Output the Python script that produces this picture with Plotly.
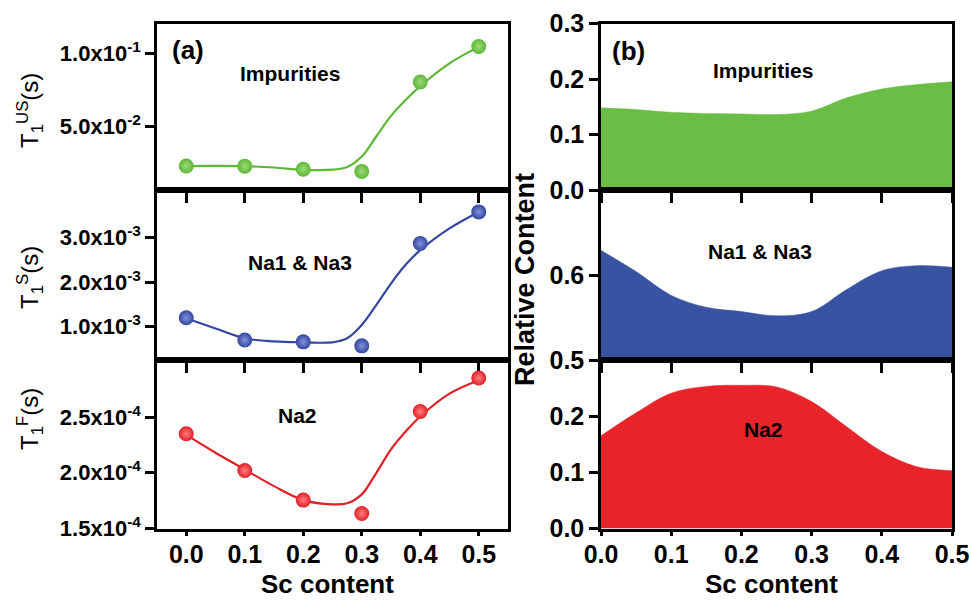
import plotly.graph_objects as go

# ---- measured data (a): relaxation times vs Sc content ----
sc = [0.0, 0.1, 0.2, 0.3, 0.4, 0.5]
t1_us = [0.0225, 0.0224, 0.0203, 0.0188, 0.0803, 0.1048]
t1_s = [1.20e-3, 0.70e-3, 0.66e-3, 0.57e-3, 2.87e-3, 3.58e-3]
t1_f = [2.35e-4, 2.02e-4, 1.755e-4, 1.634e-4, 2.55e-4, 2.85e-4]

# guide-to-the-eye curves
fit_x = [0.0, 0.05, 0.1, 0.15, 0.2, 0.25, 0.275, 0.3, 0.325, 0.35, 0.375, 0.4, 0.45, 0.5]
fit_us = [0.0225, 0.0226, 0.0224, 0.0215, 0.0199, 0.0200, 0.0218, 0.0290, 0.0430,
          0.0570, 0.0680, 0.0775, 0.0932, 0.1045]
fit_s = [1.19e-3, 0.96e-3, 0.74e-3, 0.67e-3, 0.65e-3, 0.65e-3, 0.74e-3, 1.04e-3,
         1.49e-3, 1.97e-3, 2.39e-3, 2.72e-3, 3.21e-3, 3.58e-3]
fit_f = [2.34e-4, 2.18e-4, 2.03e-4, 1.88e-4, 1.755e-4, 1.717e-4, 1.726e-4, 1.806e-4,
         2.00e-4, 2.21e-4, 2.37e-4, 2.505e-4, 2.71e-4, 2.83e-4]

# ---- (b): relative content of each Na site ----
rc_x = [0.0, 0.05, 0.1, 0.15, 0.2, 0.25, 0.3, 0.35, 0.4, 0.45, 0.5]
rc_imp = [0.148, 0.145, 0.140, 0.138, 0.137, 0.136, 0.142, 0.166, 0.182, 0.190, 0.195]
rc_na13 = [0.629, 0.604, 0.576, 0.562, 0.557, 0.552, 0.557, 0.583, 0.605, 0.611, 0.609]
rc_na2 = [0.165, 0.206, 0.241, 0.253, 0.255, 0.252, 0.226, 0.181, 0.137, 0.110, 0.103]

# tick labels
x_ticks = [0.0, 0.1, 0.2, 0.3, 0.4, 0.5]
x_ticktext = ["0.0", "0.1", "0.2", "0.3", "0.4", "0.5"]
us_ticks = [0.05, 0.1]
us_text = ["5.0x10<sup>-2</sup>", "1.0x10<sup>-1</sup>"]
s_ticks = [1e-3, 2e-3, 3e-3]
s_text = ["1.0x10<sup>-3</sup>", "2.0x10<sup>-3</sup>", "3.0x10<sup>-3</sup>"]
f_ticks = [1.5e-4, 2.0e-4, 2.5e-4]
f_text = ["1.5x10<sup>-4</sup>", "2.0x10<sup>-4</sup>", "2.5x10<sup>-4</sup>"]

GREEN, BLUE, RED = "#5db737", "#34479f", "#e01f26"
FILL_G, FILL_B, FILL_R = "#6abd45", "#3953a3", "#e8232a"
FONT = "Liberation Sans, Arial, sans-serif"

W, H = 971, 600
fig = go.Figure()


def px_x(p):
    return p / W


def px_y(p):
    return 1 - p / H


# panel geometry (paper fractions)
LX = [px_x(157), px_x(508)]
RX = [px_x(601), px_x(952)]
ROWS = [[px_y(190), px_y(23.5)], [px_y(360), px_y(190)], [px_y(528.5), px_y(360)]]


def sphere(color, light):
    return dict(size=15, color=color, line=dict(width=0),
                gradient=dict(type="radial", color=light))


left = [
    (t1_us, fit_us, GREEN, "#9bd97a", [0.006, 0.1206], us_ticks, us_text),
    (t1_s, fit_s, BLUE, "#8191dc", [0.252e-3, 4.072e-3], s_ticks, s_text),
    (t1_f, fit_f, RED, "#ff8080", [1.5e-4, 3.012e-4], f_ticks, f_text),
]
right = [
    (rc_imp, FILL_G, [0, 0.3], [0, 0.1, 0.2, 0.3]),
    (rc_na13, FILL_B, [0.5, 0.7], [0.5, 0.6]),
    (rc_na2, FILL_R, [0, 0.3], [0, 0.1, 0.2]),
]

axis_common = dict(showline=True, linecolor="black", linewidth=2.5, mirror=True,
                   ticks="outside", tickwidth=2.5, tickcolor="black",
                   showgrid=False, zeroline=False, automargin=False)


def x_axis(domain, rng, anchor, bottom):
    # upper panels: their ticks reach down into the panel below; bottom row carries labels
    return dict(axis_common, domain=domain, range=rng, anchor=anchor,
                tickvals=x_ticks, ticktext=x_ticktext, showticklabels=bottom,
                ticklen=5 if bottom else 10, ticklabelstandoff=-3,
                tickfont=dict(family=FONT, size=25, color="black", weight="bold"))


for i, (pts, fit, col, light, yr, tv, tt) in enumerate(left):
    xa, ya = f"x{i + 1}", f"y{i + 1}"
    fig.add_trace(go.Scatter(x=fit_x, y=fit, mode="lines", xaxis=xa, yaxis=ya,
                             line=dict(color=col, width=2.2, shape="spline", smoothing=1.0),
                             showlegend=False, hoverinfo="skip"))
    fig.add_trace(go.Scatter(x=sc, y=pts, mode="markers", xaxis=xa, yaxis=ya,
                             marker=sphere(col, light), showlegend=False))
    fig.layout[f"xaxis{i + 1}"] = x_axis(LX, [-0.05, 0.55], ya, i == 2)
    fig.layout[f"yaxis{i + 1}"] = dict(axis_common, domain=ROWS[i], range=yr, anchor=xa,
                                       tickvals=tv, ticktext=tt, ticklen=9,
                                       tickfont=dict(family=FONT, size=22, color="black",
                                                     weight="bold"))

for j, (vals, col, yr, tv) in enumerate(right):
    k = j + 4
    xa, ya = f"x{k}", f"y{k}"
    fig.add_trace(go.Scatter(x=rc_x, y=vals, mode="lines", fill="tozeroy", xaxis=xa, yaxis=ya,
                             fillcolor=col, line=dict(color=col, width=0.5, shape="spline",
                                                      smoothing=1.0),
                             showlegend=False))
    fig.layout[f"xaxis{k}"] = x_axis(RX, [0, 0.5], ya, j == 2)
    fig.layout[f"yaxis{k}"] = dict(axis_common, domain=ROWS[j], range=yr, anchor=xa,
                                   tickvals=tv, ticktext=[f"{v:.1f}" for v in tv], ticklen=9,
                                   tickfont=dict(family=FONT, size=25, color="black",
                                                 weight="bold"))


def note(text, x, y, size=21, bold=True, angle=0):
    fig.add_annotation(text=text, x=px_x(x), y=px_y(y), xref="paper", yref="paper",
                       showarrow=False, textangle=angle, xanchor="center", yanchor="middle",
                       font=dict(family=FONT, size=size, color="black",
                                 weight="bold" if bold else "normal"))


# panel labels and site names
note("(a)", 188, 50, size=26)
note("(b)", 628, 51, size=26)
note("Impurities", 290, 73)
note("Na1 &amp; Na3", 300, 262)
note("Na2", 297, 415)
note("Impurities", 763, 70)
note("Na1 &amp; Na3", 760, 251)
note("Na2", 763, 429)

# axis titles
note("T<sub>1</sub><sup>US</sup>(s)", 30, 111, size=24, bold=False, angle=-90)
note("T<sub>1</sub><sup>S</sup>(s)", 30, 278, size=24, bold=False, angle=-90)
note("T<sub>1</sub><sup>F</sup>(s)", 30, 419, size=24, bold=False, angle=-90)
note("Relative Content", 525, 280, size=27, angle=-90)
note("Sc content", 327, 584, size=26)
note("Sc content", 771, 584, size=26)

fig.update_layout(width=W, height=H, margin=dict(l=0, r=0, t=0, b=0, pad=0),
                  paper_bgcolor="white", plot_bgcolor="white",
                  font=dict(family=FONT, color="black"))

fig.write_html("out.html")
